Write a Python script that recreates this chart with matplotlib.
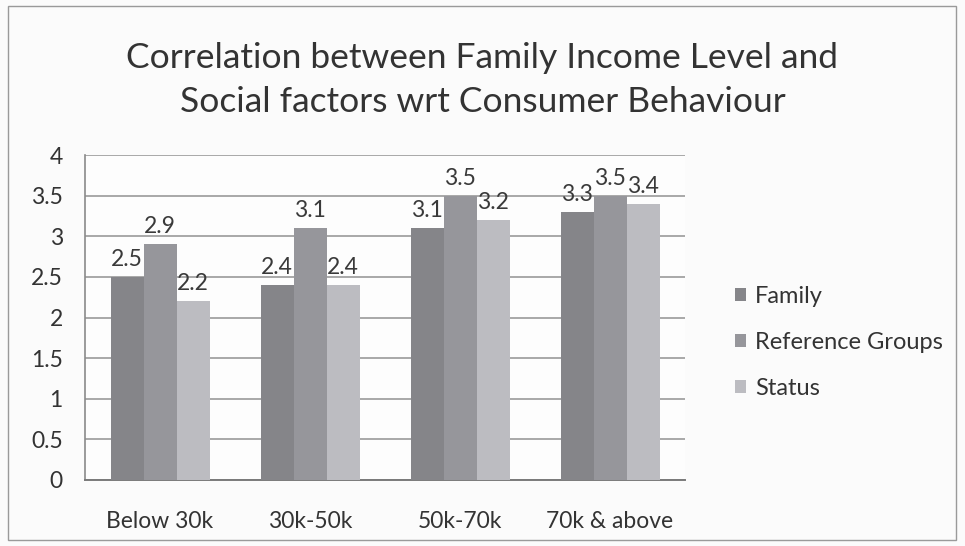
import matplotlib.pyplot as plt
import numpy as np
from matplotlib.patches import Rectangle

categories = ["Below 30k", "30k-50k", "50k-70k", "70k & above"]
family = [2.5, 2.4, 3.1, 3.3]
reference_groups = [2.9, 3.1, 3.5, 3.5]
status = [2.2, 2.4, 3.2, 3.4]
series_names = ["Family", "Reference Groups", "Status"]
y_ticks = [0, 0.5, 1, 1.5, 2, 2.5, 3, 3.5, 4]

plt.rcParams['font.family'] = ['Lato', 'DejaVu Sans']

fig = plt.figure(figsize=(9.65, 5.46), dpi=100)
fig.patch.set_facecolor('#fbfbfb')
ax = fig.add_axes([85 / 965, 1 - 480 / 546, 600 / 965, 325 / 546])
ax.set_facecolor('#fdfdfd')

colors = ['#858589', '#96969b', '#bcbcc1']
width = 0.22
x = np.arange(len(categories))
series = [family, reference_groups, status]
for i, (vals, name, c) in enumerate(zip(series, series_names, colors)):
    bars = ax.bar(x + (i - 1) * width, vals, width, color=c, label=name, zorder=3)
    ax.bar_label(bars, labels=[f"{v:g}" for v in vals], padding=5,
                 fontsize=16.5, color='#3a3a3a', zorder=4)

ax.set_xlim(-0.5, len(categories) - 0.5)
ax.set_ylim(0, 4)
ax.set_yticks(y_ticks)
ax.set_yticklabels([f"{t:g}" for t in y_ticks], fontsize=16.5, color='#333333')
ax.set_xticks(x)
ax.set_xticklabels(categories, fontsize=16.5, color='#333333')
ax.tick_params(axis='x', length=0, pad=22)
ax.tick_params(axis='y', length=0, pad=16)
ax.grid(axis='y', color='#9a9a9a', linewidth=1.2, zorder=0)
for s in ['top', 'right']:
    ax.spines[s].set_visible(False)
ax.spines['left'].set_color('#8a8a8a')
ax.spines['left'].set_linewidth(1.2)
ax.spines['bottom'].set_color('#7a7a7a')
ax.spines['bottom'].set_linewidth(1.4)

fig.text(0.5, 1 - 58 / 546, "Correlation between Family Income Level and",
         ha='center', va='center', fontsize=25.5, color='#333333')
fig.text(0.5, 1 - 102 / 546, "Social factors wrt Consumer Behaviour",
         ha='center', va='center', fontsize=25.5, color='#333333')

leg = fig.legend(loc='upper left', bbox_to_anchor=(714 / 965, 1 - 265 / 546),
                 frameon=False, fontsize=17, handlelength=0.45, handleheight=0.45,
                 labelspacing=1.05, handletextpad=0.4, labelcolor='#333333')

fig.patches.append(Rectangle((8 / 965, 6 / 546), 948 / 965, 534 / 546,
                             transform=fig.transFigure, fill=False,
                             edgecolor='#9a9a9a', linewidth=1.0))

fig.savefig('out.png', dpi=100, facecolor=fig.get_facecolor())
